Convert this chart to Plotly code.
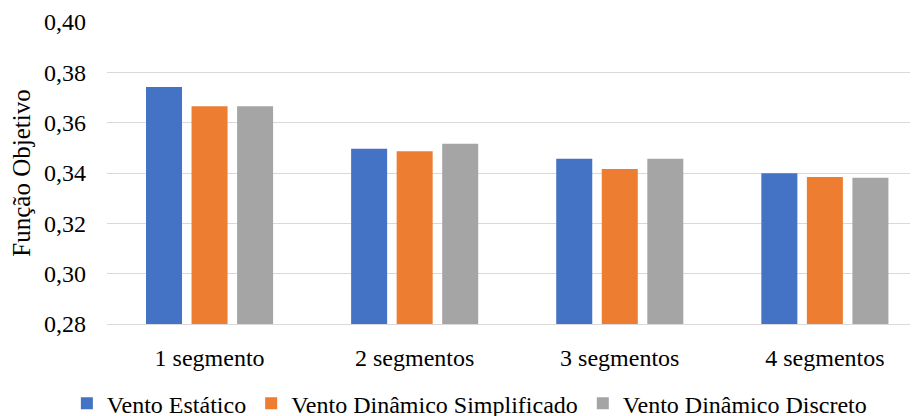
import plotly.graph_objects as go

categories = ["1 segmento", "2 segmentos", "3 segmentos", "4 segmentos"]
series_names = ["Vento Estático", "Vento Dinâmico Simplificado", "Vento Dinâmico Discreto"]
vento_estatico = [0.3742, 0.3496, 0.3457, 0.3399]
vento_simplificado = [0.3665, 0.3486, 0.3416, 0.3384]
vento_discreto = [0.3665, 0.3516, 0.3457, 0.3381]
colors = ["#4472C4", "#ED7D31", "#A5A5A5"]
y_ticks = [0.28, 0.30, 0.32, 0.34, 0.36, 0.38, 0.40]

FONT = "Liberation Serif"

fig = go.Figure()
for name, vals, col in zip(series_names, [vento_estatico, vento_simplificado, vento_discreto], colors):
    fig.add_trace(go.Bar(x=categories, y=vals, name=name, marker=dict(color=col, line=dict(width=0))))

# page body has an 8px offset, so the figure is 8px smaller and margins shifted
fig.update_layout(
    width=910, height=408,
    margin=dict(l=99, r=0, t=14, b=92, autoexpand=False),
    paper_bgcolor="white", plot_bgcolor="white",
    barmode="group", bargap=0.334, bargroupgap=0.209,
    separators=",.",
    font=dict(family=FONT, size=24, color="#000000"),
    showlegend=True,
    legend=dict(orientation="h", xref="container", x=0.507, xanchor="center",
                yref="container", y=0.03, yanchor="middle",
                font=dict(family=FONT, size=24, color="#000000"), traceorder="normal"),
)
fig.update_yaxes(
    range=[0.28, 0.40], tickvals=y_ticks, tickformat=".2f",
    showgrid=True, gridcolor="#D9D9D9", gridwidth=1, zeroline=False,
    showline=False, ticks="", ticklabelstandoff=20,
    title=dict(text="Função Objetivo", font=dict(family=FONT, size=25), standoff=6),
    tickfont=dict(family=FONT, size=24, color="#000000"),
)
fig.update_xaxes(
    range=[-0.5, 3.454],
    showline=True, linecolor="#D9D9D9", linewidth=1, ticks="", ticklabelstandoff=12,
    tickfont=dict(family=FONT, size=24, color="#000000"),
)
fig.write_html("out.html")
